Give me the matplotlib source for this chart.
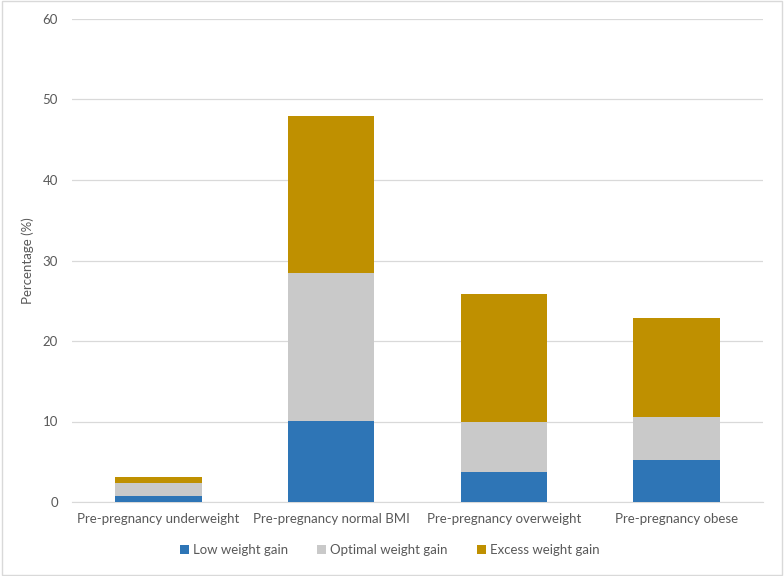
import matplotlib
matplotlib.use("Agg")
import matplotlib.pyplot as plt
import numpy as np
from matplotlib.patches import Rectangle

# --- data ---
categories = ["Pre-pregnancy underweight", "Pre-pregnancy normal BMI",
              "Pre-pregnancy overweight", "Pre-pregnancy obese"]
low_gain = [0.8, 10.1, 3.7, 5.2]
optimal_gain = [1.5, 18.3, 6.2, 5.3]
excess_gain = [0.8, 19.6, 15.9, 12.4]
series_names = ["Low weight gain", "Optimal weight gain", "Excess weight gain"]
colors = ["#2e75b6", "#c9c9c9", "#bf9000"]

plt.rcParams['font.family'] = ['Lato', 'DejaVu Sans']
txt = "#595959"

fig = plt.figure(figsize=(7.84, 5.76), dpi=100)
ax = fig.add_axes([72 / 784, 74 / 576, 691 / 784, 483 / 576])

x = np.arange(len(categories))
bottom = np.zeros(len(categories))
for vals, name, c in zip([low_gain, optimal_gain, excess_gain], series_names, colors):
    ax.bar(x, vals, width=0.5, bottom=bottom, color=c, label=name, zorder=3)
    bottom += np.array(vals)

ax.set_xlim(-0.5, 3.5)
ax.set_ylim(0, 60)
ax.set_yticks(range(0, 61, 10))
ax.set_xticks(x)
ax.set_xticklabels(categories)
ax.grid(axis='y', color='#d9d9d9', lw=0.9, zorder=0)
for s in ['top', 'right', 'left']:
    ax.spines[s].set_visible(False)
ax.spines['bottom'].set_color('#d9d9d9')
ax.tick_params(axis='both', length=0, colors=txt, labelsize=9.5)
ax.tick_params(axis='x', pad=8)
ax.tick_params(axis='y', pad=10)
ax.set_ylabel("Percentage (%)", color=txt, fontsize=9.5, labelpad=6)

ax.legend(loc='center', bbox_to_anchor=(0.46, -0.1), ncol=3, frameon=False,
          fontsize=9.5, labelcolor=txt, handlelength=0.7, handleheight=0.7,
          columnspacing=2.2, handletextpad=0.3)

# light border round the whole chart
fig.patches.append(Rectangle((0.002, 0.002), 0.996, 0.996, transform=fig.transFigure,
                             fill=False, edgecolor='#d9d9d9', lw=1))

fig.savefig("out.png", dpi=100)
